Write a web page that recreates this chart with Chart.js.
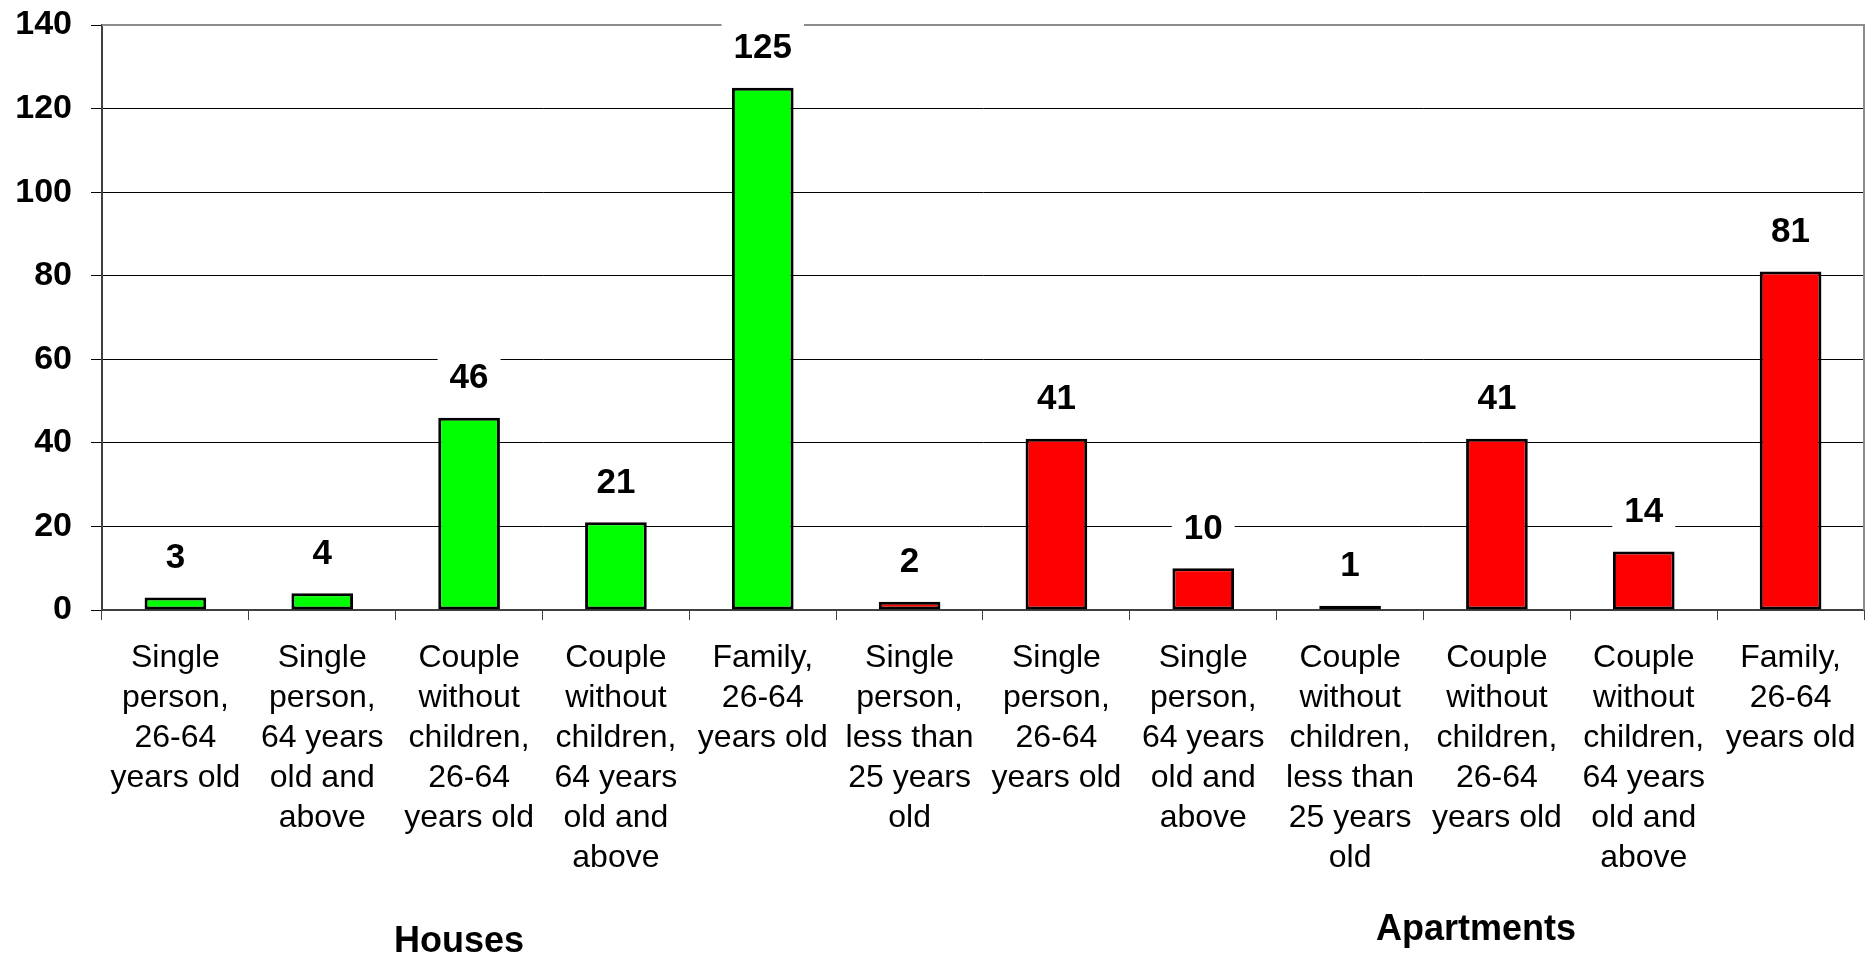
<!DOCTYPE html>
<html>
<head>
<meta charset="utf-8">
<script src="https://cdn.jsdelivr.net/npm/chart.js@4/dist/chart.umd.min.js"></script>
<style>
html,body{margin:0;padding:0;background:#fff;}
#wrap{width:1870px;height:956px;position:relative;}
</style>
</head>
<body>
<div id="wrap"><canvas id="c" width="1870" height="956"></canvas></div>
<script>
const categories = [
  ["Single", "person,", "26-64", "years old"],
  ["Single", "person,", "64 years", "old and", "above"],
  ["Couple", "without", "children,", "26-64", "years old"],
  ["Couple", "without", "children,", "64 years", "old and", "above"],
  ["Family,", "26-64", "years old"],
  ["Single", "person,", "less than", "25 years", "old"],
  ["Single", "person,", "26-64", "years old"],
  ["Single", "person,", "64 years", "old and", "above"],
  ["Couple", "without", "children,", "less than", "25 years", "old"],
  ["Couple", "without", "children,", "26-64", "years old"],
  ["Couple", "without", "children,", "64 years", "old and", "above"],
  ["Family,", "26-64", "years old"]
];
const values = [3, 4, 46, 21, 125, 2, 41, 10, 1, 41, 14, 81];
const groups = ["Houses", "Houses", "Houses", "Houses", "Houses",
  "Apartments", "Apartments", "Apartments", "Apartments", "Apartments", "Apartments", "Apartments"];
const groupColors = { "Houses": "#00FF00", "Apartments": "#FF0000" };
const yTicks = [0, 20, 40, 60, 80, 100, 120, 140];

const FONT = "'Liberation Sans', Arial, sans-serif";

const labelPlugin = {
  id: 'valueLabels',
  afterDraw(chart) {
    const ctx = chart.ctx;
    const ca = chart.chartArea;
    ctx.save();
    ctx.strokeStyle = '#8c8c8c';
    ctx.lineWidth = 2;
    ctx.beginPath();
    ctx.moveTo(ca.left, ca.top);
    ctx.lineTo(ca.right, ca.top);
    ctx.lineTo(ca.right, ca.bottom);
    ctx.stroke();
    ctx.restore();

    const meta = chart.getDatasetMeta(0);
    ctx.save();
    ctx.font = "bold 35px " + FONT;
    ctx.textAlign = 'center';
    ctx.textBaseline = 'middle';
    meta.data.forEach((bar, i) => {
      const txt = String(values[i]);
      const w = ctx.measureText(txt).width + 24;
      const cy = bar.y - 39;
      ctx.fillStyle = '#ffffff';
      ctx.fillRect(bar.x - w / 2, cy - 27, w, 54);
      ctx.fillStyle = '#000000';
      ctx.fillText(txt, bar.x, cy);
    });
    const xs = chart.scales.x;
    const firstIdx = {};
    const lastIdx = {};
    groups.forEach((g, i) => { if (!(g in firstIdx)) firstIdx[g] = i; lastIdx[g] = i; });
    ctx.font = "bold 36px " + FONT;
    const gpos = { "Houses": { dx: -10, y: 942 }, "Apartments": { dx: 126, y: 930 } };
    Object.keys(firstIdx).forEach(g => {
      const cx = (xs.getPixelForValue(firstIdx[g]) + xs.getPixelForValue(lastIdx[g])) / 2 + gpos[g].dx;
      ctx.fillText(g, cx, gpos[g].y);
    });
    ctx.restore();
  }
};

new Chart(document.getElementById('c'), {
  type: 'bar',
  data: {
    labels: categories,
    datasets: [{
      data: values,
      backgroundColor: groups.map(g => groupColors[g]),
      borderColor: '#000000',
      borderWidth: 3,
      borderSkipped: false,
      categoryPercentage: 1.0,
      barPercentage: 0.42
    }]
  },
  options: {
    responsive: false,
    animation: false,
    devicePixelRatio: 1,
    layout: { padding: { left: 0, right: 6, top: 25, bottom: 0 } },
    plugins: { legend: { display: false }, tooltip: { enabled: false } },
    scales: {
      x: {
        afterFit(scale) { scale.height = 346; scale.paddingLeft = 0; scale.paddingRight = 0; },
        grid: { display: true, drawOnChartArea: false, drawTicks: true, tickLength: 10, color: '#404040', offset: true },
        border: { display: true, color: '#404040', width: 2 },
        ticks: {
          color: '#000',
          font: { family: FONT, size: 32, lineHeight: 1.25 },
          padding: 18,
          maxRotation: 0,
          autoSkip: false
        }
      },
      y: {
        min: 0,
        max: 140,
        afterBuildTicks(scale) { scale.ticks = yTicks.map(v => ({ value: v })); },
        afterFit(scale) { scale.width = 102; scale.paddingTop = 0; scale.paddingBottom = 0; },
        grid: { color: '#000000', lineWidth: 1, tickLength: 11 },
        border: { display: true, color: '#404040', width: 2 },
        ticks: {
          color: '#000',
          font: { family: FONT, size: 34, weight: 'bold' },
          padding: 19
        }
      }
    }
  },
  plugins: [labelPlugin]
});
</script>
</body>
</html>
